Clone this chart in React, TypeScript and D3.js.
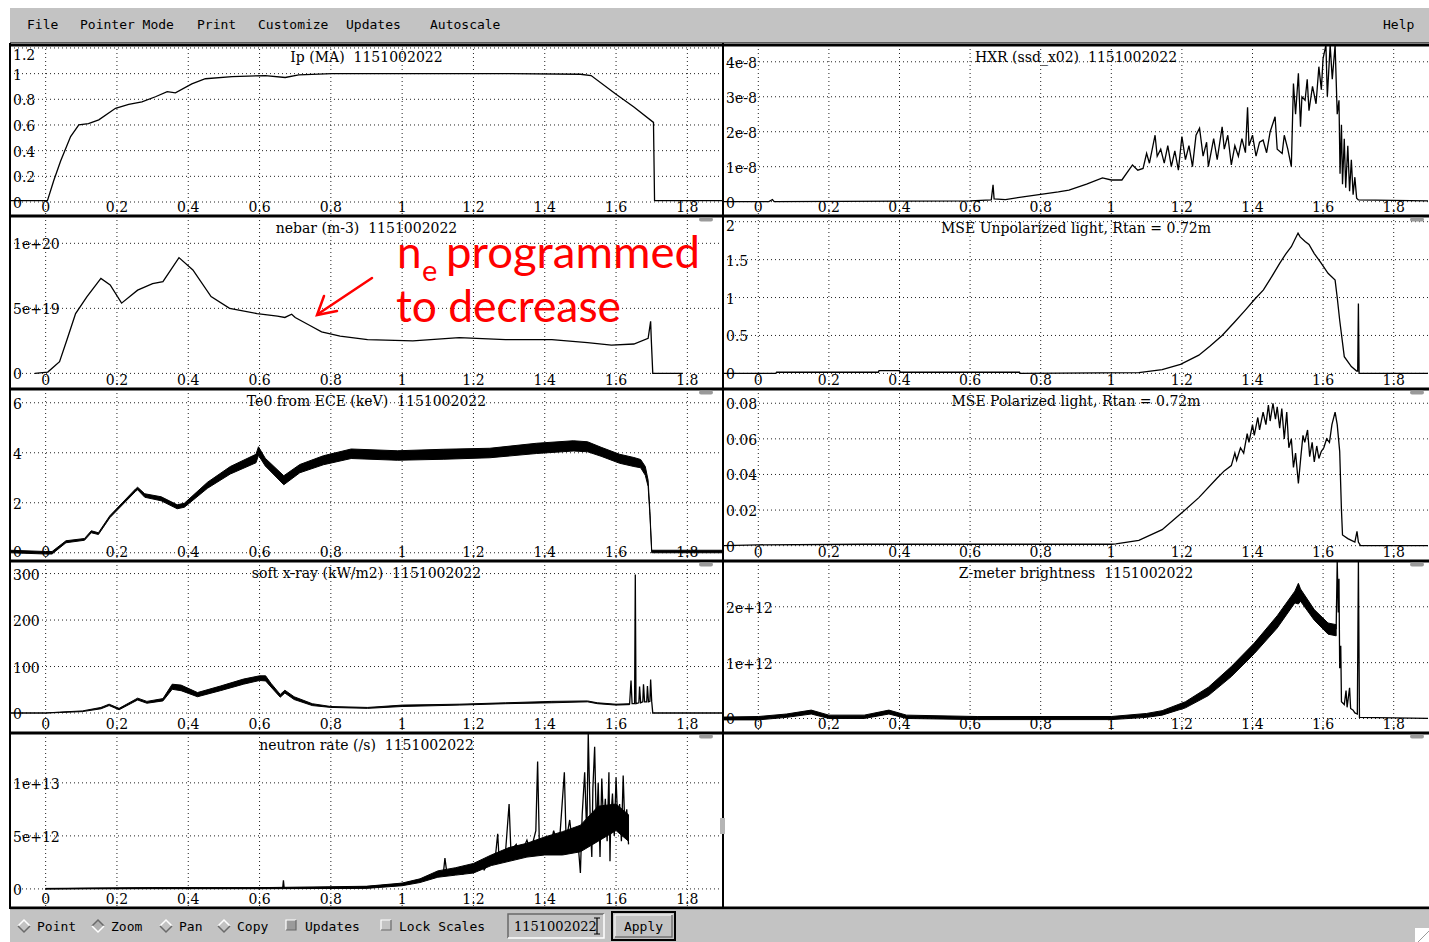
import React from "react"
import * as d3 from "d3"

const WIDTH = 1429
const HEIGHT = 942
const ROWS = [45, 216, 389, 561, 733, 908]
const COLS = [10, 723, 1429]
const X_DOMAIN = [-0.1, 1.9]

const SERIF = "'DejaVu Serif', serif"
const MONO = "'DejaVu Sans Mono', monospace"

const xTicks = [0, 0.2, 0.4, 0.6, 0.8, 1, 1.2, 1.4, 1.6, 1.8]
const xTickLabels = ["0", "0.2", "0.4", "0.6", "0.8", "1", "1.2", "1.4", "1.6", "1.8"]

// y ticks per panel
const ipTicks = [0, 0.2, 0.4, 0.6, 0.8, 1, 1.2]
const ipTickLabels = ["0", "0.2", "0.4", "0.6", "0.8", "1", "1.2"]
const nebarTicks = [0, 5, 10] // 1e19
const nebarTickLabels = ["0", "5e+19", "1e+20"]
const teTicks = [0, 2, 4, 6]
const teTickLabels = ["0", "2", "4", "6"]
const sxrTicks = [0, 100, 200, 300]
const sxrTickLabels = ["0", "100", "200", "300"]
const neutronTicks = [0, 5, 10] // 1e12
const neutronTickLabels = ["0", "5e+12", "1e+13"]
const hxrTicks = [0, 1, 2, 3, 4] // 1e-8
const hxrTickLabels = ["0", "1e-8", "2e-8", "3e-8", "4e-8"]
const mseUTicks = [0, 0.5, 1, 1.5, 2]
const mseUTickLabels = ["0", "0.5", "1", "1.5", "2"]
const msePTicks = [0, 0.02, 0.04, 0.06, 0.08]
const msePTickLabels = ["0", "0.02", "0.04", "0.06", "0.08"]
const zTicks = [0, 1, 2] // 1e12
const zTickLabels = ["0", "1e+12", "2e+12"]

// traces [t, value]
const ipTrace = [[-0.1, 0.01], [0.005, 0.01], [0.023, 0.17], [0.042, 0.32], [0.07, 0.51], [0.093, 0.6], [0.12, 0.61], [0.149, 0.64], [0.196, 0.73], [0.233, 0.76], [0.27, 0.78], [0.308, 0.82], [0.341, 0.86], [0.364, 0.85], [0.41, 0.92], [0.448, 0.96], [0.523, 0.977], [0.616, 0.985], [0.672, 0.97], [0.71, 0.99], [0.803, 1.0], [1.0, 1.0], [1.3, 1.0], [1.5, 0.995], [1.53, 0.985], [1.6, 0.84], [1.65, 0.74], [1.705, 0.62], [1.708, 0.01], [1.9, 0.01]]

const nebarTrace = [[-0.03, 0], [0.006, 0.1], [0.039, 0.9], [0.06, 2.6], [0.084, 4.6], [0.116, 5.9], [0.155, 7.3], [0.181, 6.8], [0.213, 5.4], [0.258, 6.4], [0.3, 6.9], [0.329, 7.05], [0.374, 8.9], [0.413, 7.95], [0.464, 5.9], [0.516, 5.0], [0.593, 4.6], [0.65, 4.4], [0.671, 4.3], [0.69, 4.55], [0.7, 4.3], [0.74, 3.7], [0.774, 3.2], [0.826, 2.87], [0.903, 2.6], [1.03, 2.5], [1.16, 2.75], [1.29, 2.6], [1.42, 2.6], [1.52, 2.36], [1.587, 2.18], [1.65, 2.26], [1.69, 2.7], [1.697, 4.0], [1.699, 2.5], [1.703, 0], [1.787, 0]]

// bands [t, low, high]
const te0Band = [[-0.1, 0.0, 0.1], [0.0, -0.05, 0.05], [0.018, -0.05, 0.05], [0.057, 0.4, 0.48], [0.109, 0.5, 0.57], [0.128, 0.8, 0.88], [0.148, 0.73, 0.8], [0.18, 1.4, 1.48], [0.252, 2.45, 2.55], [0.258, 2.52, 2.62], [0.278, 2.22, 2.36], [0.324, 2.08, 2.24], [0.369, 1.76, 1.92], [0.389, 1.82, 1.98], [0.454, 2.58, 2.82], [0.518, 3.15, 3.45], [0.59, 3.6, 3.94], [0.597, 3.9, 4.24], [0.616, 3.47, 3.78], [0.668, 2.72, 3.08], [0.713, 3.2, 3.53], [0.779, 3.52, 3.88], [0.857, 3.77, 4.15], [0.987, 3.7, 4.08], [1.117, 3.74, 4.14], [1.246, 3.8, 4.18], [1.377, 3.97, 4.38], [1.48, 4.07, 4.48], [1.52, 4.04, 4.44], [1.558, 3.86, 4.22], [1.61, 3.58, 3.94], [1.65, 3.45, 3.81], [1.669, 3.4, 3.73], [1.682, 3.1, 3.45], [1.69, 2.65, 2.9], [1.695, 1.5, 1.65], [1.7, 0.0, 0.1], [1.9, 0.0, 0.1]]

const sxrBand = [[-0.1, 0, 0], [0.0, 0, 0], [0.039, 1, 2], [0.103, 3, 4.5], [0.155, 9, 12], [0.178, 16, 19], [0.206, 7, 10], [0.258, 28, 32], [0.284, 21, 25], [0.329, 26, 31], [0.355, 51, 62], [0.38, 48, 60], [0.426, 35, 44], [0.49, 48, 58], [0.555, 62, 73], [0.6, 70, 80], [0.617, 69, 80], [0.632, 56, 64], [0.658, 34, 40], [0.671, 43, 49], [0.697, 29, 35], [0.748, 16, 20], [0.8, 12, 14], [0.903, 10, 12], [1.0, 14, 17], [1.16, 17, 19], [1.29, 20, 22], [1.42, 22, 25], [1.52, 24, 26], [1.548, 20, 22], [1.6, 17, 19], [1.638, 18, 20]]
const sxrSpikes = [[1.638, 19], [1.642, 70], [1.645, 20], [1.652, 20], [1.654, 298], [1.656, 20], [1.664, 22], [1.666, 57], [1.669, 22], [1.675, 24], [1.677, 62], [1.68, 24], [1.686, 24], [1.688, 58], [1.691, 24], [1.695, 25], [1.697, 72], [1.7, 25], [1.703, 0], [1.9, 0]]

const neutronBand = [[0, 0, 0.05], [0.3, 0.02, 0.12], [0.6, 0.02, 0.12], [0.9, 0.05, 0.25], [1.0, 0.3, 0.55], [1.05, 0.6, 0.95], [1.1, 1.1, 1.7], [1.15, 1.3, 2.0], [1.2, 1.5, 2.4], [1.25, 2.2, 3.2], [1.3, 2.6, 3.9], [1.35, 3.0, 4.3], [1.4, 3.2, 4.9], [1.45, 3.2, 5.4], [1.5, 3.5, 6.0], [1.55, 4.5, 7.8], [1.6, 5.5, 8.0], [1.635, 4.5, 7.0]]
const neutronSpikes = [[0, 0], [0.12, 0.05], [0.3, 0.1], [0.5, 0.1], [0.665, 0.1], [0.667, 0.8], [0.669, 0.1], [0.85, 0.1], [0.92, 0.25], [1.0, 0.45], [1.04, 0.7], [1.08, 1.2], [1.1, 1.6], [1.115, 1.3], [1.12, 2.9], [1.125, 1.6], [1.15, 1.8], [1.17, 1.4], [1.2, 2.0], [1.22, 2.6], [1.23, 1.8], [1.25, 2.9], [1.26, 2.5], [1.268, 5.2], [1.272, 2.8], [1.29, 3.5], [1.3, 8.0], [1.305, 3.6], [1.32, 4.2], [1.33, 3.0], [1.35, 4.6], [1.36, 3.5], [1.375, 5.5], [1.38, 12.0], [1.385, 4.0], [1.4, 4.8], [1.41, 3.2], [1.425, 5.5], [1.44, 3.8], [1.455, 11.0], [1.46, 4.5], [1.47, 6.5], [1.48, 3.5], [1.49, 5.8], [1.5, 1.5], [1.505, 7.0], [1.512, 11.0], [1.518, 5.0], [1.522, 14.6], [1.528, 6.0], [1.532, 3.0], [1.535, 9.5], [1.54, 13.4], [1.545, 5.5], [1.55, 10.0], [1.555, 3.0], [1.56, 10.4], [1.565, 6.0], [1.57, 8.5], [1.575, 4.5], [1.58, 11.0], [1.583, 2.6], [1.585, 6.5], [1.59, 9.0], [1.595, 5.0], [1.6, 10.5], [1.605, 6.0], [1.61, 8.0], [1.615, 4.5], [1.62, 10.7], [1.625, 5.5], [1.63, 7.5], [1.635, 4.2]]

const hxrTrace = [[-0.1, 0.0], [0.03, 0.0], [0.04, 0.06], [0.045, 0.0], [0.6, 0.02], [0.66, 0.05], [0.665, 0.48], [0.668, 0.08], [0.7, 0.06], [0.75, 0.14], [0.8, 0.21], [0.85, 0.28], [0.88, 0.33], [0.93, 0.5], [0.975, 0.68], [1.0, 0.62], [1.03, 0.62], [1.06, 1.05], [1.075, 0.9], [1.09, 0.95], [1.1, 1.38], [1.108, 1.1], [1.124, 1.9], [1.13, 1.3], [1.14, 1.5], [1.15, 1.1], [1.16, 1.6], [1.17, 1.0], [1.18, 1.45], [1.19, 0.9], [1.2, 1.86], [1.21, 1.2], [1.22, 1.6], [1.23, 1.0], [1.24, 1.9], [1.25, 2.1], [1.26, 1.3], [1.27, 1.7], [1.275, 1.0], [1.29, 1.8], [1.3, 1.2], [1.314, 2.14], [1.32, 1.5], [1.33, 1.9], [1.34, 1.05], [1.35, 1.6], [1.36, 1.3], [1.37, 1.8], [1.38, 1.4], [1.386, 2.7], [1.39, 1.6], [1.4, 1.9], [1.41, 1.3], [1.42, 1.7], [1.43, 1.76], [1.44, 1.4], [1.45, 2.0], [1.464, 2.43], [1.47, 1.5], [1.484, 1.38], [1.49, 1.9], [1.5, 1.5], [1.51, 1.0], [1.516, 3.38], [1.522, 2.5], [1.53, 3.67], [1.536, 2.14], [1.54, 3.0], [1.549, 2.9], [1.555, 3.5], [1.56, 2.6], [1.57, 3.3], [1.58, 2.8], [1.588, 3.86], [1.595, 3.2], [1.6, 4.1], [1.608, 4.48], [1.612, 3.0], [1.62, 4.48], [1.626, 3.5], [1.634, 4.48], [1.64, 2.5], [1.645, 2.9], [1.648, 0.8], [1.652, 2.2], [1.655, 0.5], [1.66, 1.8], [1.664, 0.4], [1.67, 1.6], [1.675, 0.3], [1.68, 1.2], [1.685, 0.2], [1.69, 0.7], [1.695, 0.1], [1.7, 0.05], [1.9, 0.02]]

const mseUnpolTrace = [[-0.1, 0], [0.05, 0], [0.052, 0.015], [0.34, 0.015], [0.342, 0.035], [0.4, 0.035], [0.402, 0.015], [0.74, 0.015], [0.742, 0], [1.078, 0.01], [1.144, 0.05], [1.196, 0.12], [1.248, 0.24], [1.28, 0.36], [1.314, 0.5], [1.35, 0.68], [1.379, 0.83], [1.405, 0.97], [1.431, 1.1], [1.455, 1.28], [1.477, 1.45], [1.495, 1.58], [1.51, 1.67], [1.529, 1.85], [1.535, 1.8], [1.549, 1.74], [1.56, 1.7], [1.575, 1.58], [1.595, 1.45], [1.614, 1.32], [1.634, 1.23], [1.64, 1.0], [1.647, 0.7], [1.66, 0.22], [1.68, 0.09], [1.695, 0.03], [1.698, 0.03], [1.7, 0.92], [1.702, 0.0], [1.9, 0.0]]

const msePolTrace = [[-0.1, 0], [0.0, 0.0005], [0.3, 0.0008], [0.6, 0.0008], [1.0, 0.0008], [1.013, 0.001], [1.078, 0.003], [1.144, 0.009], [1.203, 0.019], [1.248, 0.027], [1.3, 0.038], [1.32, 0.042], [1.34, 0.045], [1.35, 0.052], [1.355, 0.048], [1.366, 0.055], [1.375, 0.052], [1.385, 0.063], [1.39, 0.058], [1.4, 0.068], [1.405, 0.062], [1.415, 0.072], [1.42, 0.065], [1.43, 0.075], [1.438, 0.068], [1.445, 0.079], [1.45, 0.07], [1.458, 0.08], [1.465, 0.071], [1.47, 0.078], [1.477, 0.066], [1.483, 0.077], [1.49, 0.06], [1.497, 0.075], [1.503, 0.055], [1.51, 0.06], [1.516, 0.044], [1.522, 0.052], [1.53, 0.035], [1.537, 0.05], [1.543, 0.062], [1.548, 0.058], [1.556, 0.065], [1.562, 0.05], [1.569, 0.058], [1.575, 0.047], [1.582, 0.056], [1.588, 0.049], [1.595, 0.053], [1.602, 0.055], [1.61, 0.06], [1.618, 0.058], [1.625, 0.068], [1.634, 0.075], [1.64, 0.068], [1.647, 0.053], [1.652, 0.02], [1.655, 0.006], [1.67, 0.004], [1.68, 0.003], [1.69, 0.002], [1.696, 0.008], [1.7, 0.002], [1.706, 0], [1.9, 0]]

const zmeterBand = [[-0.1, -0.025, 0.025], [0.0, -0.025, 0.035], [0.08, 0.02, 0.08], [0.15, 0.08, 0.15], [0.2, 0.0, 0.06], [0.3, 0.0, 0.06], [0.37, 0.08, 0.15], [0.42, 0.0, 0.06], [0.62, -0.02, 0.035], [1.0, -0.02, 0.035], [1.1, 0.02, 0.09], [1.144, 0.06, 0.14], [1.21, 0.19, 0.3], [1.275, 0.41, 0.56], [1.34, 0.75, 0.93], [1.405, 1.16, 1.35], [1.47, 1.62, 1.84], [1.52, 2.07, 2.28], [1.53, 2.05, 2.42], [1.536, 2.1, 2.32], [1.575, 1.76, 1.95], [1.614, 1.51, 1.71], [1.637, 1.48, 1.68]]
const zmeterSpikes = [[1.637, 1.6], [1.64, 2.82], [1.643, 1.9], [1.645, 2.5], [1.647, 0.9], [1.65, 1.3], [1.652, 0.3], [1.66, 0.25], [1.665, 0.5], [1.668, 0.2], [1.675, 0.55], [1.678, 0.18], [1.685, 0.15], [1.69, 0.1], [1.697, 0.08], [1.7, 2.82], [1.703, 0.02], [1.9, 0.0]]

const PANELS = [
    { title: "Ip (MA)  1151002022", col: 0, row: 0, yDomain: [-0.109, 1.223], yTicks: ipTicks, yLabels: ipTickLabels, bands: [], lines: [ipTrace] },
    { title: "nebar (m-3)  1151002022", col: 0, row: 1, yDomain: [-1.2, 12.1], yTicks: nebarTicks, yLabels: nebarTickLabels, bands: [], lines: [nebarTrace] },
    { title: "Te0 from ECE (keV)  1151002022", col: 0, row: 2, yDomain: [-0.33, 6.55], yTicks: teTicks, yLabels: teTickLabels, bands: [te0Band], lines: [] },
    { title: "soft x-ray (kW/m2)  1151002022", col: 0, row: 3, yDomain: [-43, 327], yTicks: sxrTicks, yLabels: sxrTickLabels, bands: [sxrBand], lines: [sxrSpikes] },
    { title: "neutron rate (/s)  1151002022", col: 0, row: 4, yDomain: [-1.8, 14.7], yTicks: neutronTicks, yLabels: neutronTickLabels, bands: [neutronBand], lines: [neutronSpikes] },
    { title: "HXR (ssd_x02)  1151002022", col: 1, row: 0, yDomain: [-0.41, 4.48], yTicks: hxrTicks, yLabels: hxrTickLabels, bands: [], lines: [hxrTrace] },
    { title: "MSE Unpolarized light, Rtan = 0.72m", col: 1, row: 1, yDomain: [-0.206, 2.075], yTicks: mseUTicks, yLabels: mseUTickLabels, bands: [], lines: [mseUnpolTrace] },
    { title: "MSE Polarized light, Rtan = 0.72m", col: 1, row: 2, yDomain: [-0.0086, 0.088], yTicks: msePTicks, yLabels: msePTickLabels, bands: [], lines: [msePolTrace] },
    { title: "Z-meter brightness  1151002022", col: 1, row: 3, yDomain: [-0.26, 2.82], yTicks: zTicks, yLabels: zTickLabels, bands: [zmeterBand], lines: [zmeterSpikes] },
]

const menuItems = [
    { label: "File", x: 27 },
    { label: "Pointer Mode", x: 80 },
    { label: "Print", x: 197 },
    { label: "Customize", x: 258 },
    { label: "Updates", x: 346 },
    { label: "Autoscale", x: 430 },
    { label: "Help", x: 1383 },
]

const radioItems = [
    { label: "Point", x: 24, on: false },
    { label: "Zoom", x: 98, on: true },
    { label: "Pan", x: 166, on: false },
    { label: "Copy", x: 224, on: false },
]

const Diamond = ({ cx, cy, on }: { cx: number; cy: number; on: boolean }) => {
    const r = 6
    return (
        <g>
            <path d={`M${cx - r},${cy} L${cx},${cy - r} L${cx + r},${cy} L${cx},${cy + r} Z`} fill={on ? "#b0b0b0" : "#c3c3c3"} />
            <polyline points={`${cx - r},${cy} ${cx},${cy - r} ${cx + r},${cy}`} fill="none" stroke={on ? "#6a6a6a" : "#ffffff"} strokeWidth={1.5} />
            <polyline points={`${cx - r},${cy} ${cx},${cy + r} ${cx + r},${cy}`} fill="none" stroke={on ? "#ffffff" : "#6a6a6a"} strokeWidth={1.5} />
        </g>
    )
}

const CheckBox = ({ x, y, dark }: { x: number; y: number; dark: boolean }) => (
    <g>
        <rect x={x} y={y} width={10} height={10} fill={dark ? "#9a9a9a" : "#c3c3c3"} />
        <polyline points={`${x},${y + 10} ${x},${y} ${x + 10},${y}`} fill="none" stroke="#ffffff" strokeWidth={1.2} />
        <polyline points={`${x},${y + 10} ${x + 10},${y + 10} ${x + 10},${y}`} fill="none" stroke="#6a6a6a" strokeWidth={1.2} />
    </g>
)

export default function App() {
    return (
        <div style={{ position: "absolute", left: 0, top: 0 }}>
            <svg width={WIDTH} height={HEIGHT} style={{ display: "block", background: "#ffffff" }}>
                {/* menu bar */}
                <rect x={10} y={7} width={WIDTH - 10} height={36} fill="#c3c3c3" />
                <line x1={10} x2={WIDTH} y1={7.5} y2={7.5} stroke="#ffffff" />
                <line x1={10} x2={WIDTH} y1={42.5} y2={42.5} stroke="#5a5a5a" />
                {menuItems.map((m) => (
                    <text key={m.label} x={m.x} y={29} fontFamily={MONO} fontSize={13} fill="#000">
                        {m.label}
                    </text>
                ))}

                {PANELS.map((p, i) => {
                    const left = COLS[p.col]
                    const right = COLS[p.col + 1]
                    const top = ROWS[p.row]
                    const bottom = ROWS[p.row + 1]
                    const x = d3.scaleLinear().domain(X_DOMAIN).range([left, right])
                    const y = d3.scaleLinear().domain(p.yDomain).range([bottom, top])
                    const area = d3
                        .area<number[]>()
                        .x((d) => x(d[0]))
                        .y0((d) => y(d[1]))
                        .y1((d) => y(d[2]))
                    const line = d3
                        .line<number[]>()
                        .x((d) => x(d[0]))
                        .y((d) => y(d[1]))
                    return (
                        <g key={i}>
                            <defs>
                                <clipPath id={`clip${i}`}>
                                    <rect x={left + 1} y={top + 1} width={right - left - 2} height={bottom - top - 2} />
                                </clipPath>
                            </defs>
                            <g clipPath={`url(#clip${i})`}>
                                {xTicks.map((t) => (
                                    <line key={`vx${t}`} x1={x(t)} x2={x(t)} y1={top} y2={bottom} stroke="#222" strokeDasharray="1 3" />
                                ))}
                                {p.yTicks.map((v) => (
                                    <line key={`hy${v}`} x1={left} x2={right} y1={y(v)} y2={y(v)} stroke="#222" strokeDasharray="1 3" />
                                ))}
                                <text
                                    x={(left + right) / 2}
                                    y={top + 13}
                                    textAnchor="middle"
                                    dominantBaseline="middle"
                                    fontFamily={SERIF}
                                    fontSize={14}
                                    style={{ whiteSpace: "pre" }}
                                >
                                    {p.title}
                                </text>
                                {p.yTicks.map((v, k) => (
                                    <text
                                        key={`yl${v}`}
                                        x={left + 3}
                                        y={Math.min(Math.max(y(v) + 2, top + 11), bottom - 8)}
                                        dominantBaseline="middle"
                                        fontFamily={SERIF}
                                        fontSize={14}
                                    >
                                        {p.yLabels[k]}
                                    </text>
                                ))}
                                {xTicks.map((t, k) => (
                                    <text
                                        key={`xl${t}`}
                                        x={x(t)}
                                        y={bottom - 8}
                                        textAnchor="middle"
                                        dominantBaseline="middle"
                                        fontFamily={SERIF}
                                        fontSize={14}
                                    >
                                        {xTickLabels[k]}
                                    </text>
                                ))}
                                {p.bands.map((b, k) => (
                                    <path key={`b${k}`} d={area(b as number[][]) || ""} fill="#000" stroke="#000" strokeWidth={1} />
                                ))}
                                {p.lines.map((l, k) => (
                                    <path key={`l${k}`} d={line(l as number[][]) || ""} fill="none" stroke="#000" strokeWidth={1.3} />
                                ))}
                            </g>
                        </g>
                    )
                })}

                {/* panel frames */}
                {ROWS.map((r) => (
                    <line key={`r${r}`} x1={10} x2={WIDTH} y1={r} y2={r} stroke="#000" strokeWidth={3} />
                ))}
                <line x1={10} x2={10} y1={43} y2={909} stroke="#000" strokeWidth={2} />
                <line x1={723} x2={723} y1={43} y2={909} stroke="#000" strokeWidth={2} />
                {ROWS.slice(1).map((r) => (
                    <g key={`s${r}`}>
                        <rect x={699} y={r + 1.5} width={14} height={4} rx={2} fill="#9a9a9a" />
                        {r < 908 && <rect x={1410} y={r + 1.5} width={14} height={4} rx={2} fill="#9a9a9a" />}
                    </g>
                ))}
                <rect x={720} y={818} width={5} height={16} fill="#b5b5b5" />

                {/* annotation */}
                <text fill="#ff0000" fontFamily="Lato, 'Open Sans', sans-serif" fontSize={44}>
                    <tspan x={397} y={268}>n</tspan>
                    <tspan x={422} y={281} fontSize={29}>e</tspan>
                    <tspan x={446} y={268} textLength={254} lengthAdjust="spacingAndGlyphs">programmed</tspan>
                    <tspan x={396} y={322} textLength={225} lengthAdjust="spacingAndGlyphs">to decrease</tspan>
                </text>
                <g stroke="#ff0000" strokeWidth={2.5} fill="none" strokeLinecap="round">
                    <line x1={372} y1={278} x2={318} y2={314} />
                    <polyline points="324,296 317,315 337,311" />
                </g>

                {/* bottom toolbar */}
                <rect x={10} y={909.5} width={WIDTH - 10} height={HEIGHT - 909.5} fill="#c3c3c3" />
                {radioItems.map((r) => (
                    <g key={r.label}>
                        <Diamond cx={r.x} cy={926} on={r.on} />
                        <text x={r.x + 13} y={931} fontFamily={MONO} fontSize={13}>
                            {r.label}
                        </text>
                    </g>
                ))}
                <CheckBox x={286} y={920} dark={true} />
                <text x={305} y={931} fontFamily={MONO} fontSize={13}>Updates</text>
                <CheckBox x={381} y={920} dark={false} />
                <text x={399} y={931} fontFamily={MONO} fontSize={13}>Lock Scales</text>
                <rect x={508} y={914} width={96} height={24} fill="#c3c3c3" />
                <polyline points="508,938 508,914 604,914" fill="none" stroke="#6a6a6a" strokeWidth={1.5} />
                <polyline points="508,938 604,938 604,914" fill="none" stroke="#ffffff" strokeWidth={1.5} />
                <text x={514} y={931} fontFamily={SERIF} fontSize={13}>1151002022</text>
                <line x1={597} x2={597} y1={918} y2={934} stroke="#000" strokeWidth={1.2} />
                <line x1={594} x2={600} y1={918} y2={918} stroke="#000" />
                <line x1={594} x2={600} y1={934} y2={934} stroke="#000" />
                <rect x={612} y={912} width={63} height={28} fill="none" stroke="#000" strokeWidth={2} />
                <rect x={615} y={915} width={57} height={22} fill="#c3c3c3" stroke="#ffffff" strokeWidth={1} />
                <polyline points="615,937 672,937 672,915" fill="none" stroke="#6a6a6a" strokeWidth={1.5} />
                <text x={643.5} y={931} textAnchor="middle" fontFamily={MONO} fontSize={13}>Apply</text>
                <rect x={1415} y={928} width={14} height={14} fill="#ffffff" />
                <line x1={1418} x2={1429} y1={942} y2={931} stroke="#9a9a9a" />
            </svg>
        </div>
    )
}
